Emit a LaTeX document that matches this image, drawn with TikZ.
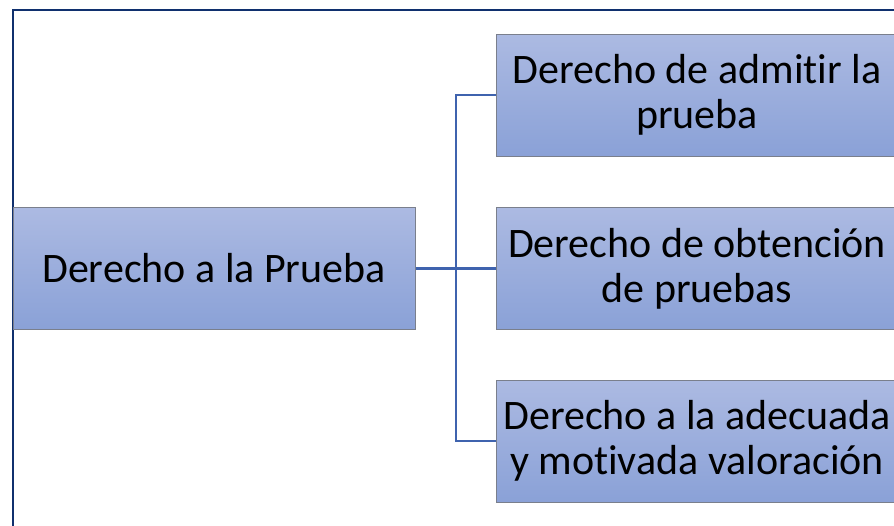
\documentclass[tikz,border=0pt]{standalone}
\usepackage{fontspec}
\setmainfont[Ligatures={NoCommon}]{Carlito}
\definecolor{frameblue}{HTML}{10306E}
\definecolor{linkblue}{HTML}{3F63AE}
\definecolor{boxtop}{HTML}{ACBAE2}
\definecolor{boxbot}{HTML}{8AA1D7}
\definecolor{boxedge}{HTML}{7A7F8C}
\begin{document}
\begin{tikzpicture}[x=1pt,y=-1pt,
  box/.style={draw=boxedge, line width=1pt, top color=boxtop, bottom color=boxbot,
    minimum height=122pt, inner sep=0pt, align=center, font=\fontsize{42}{45}\selectfont, text=black},
  link/.style={draw=linkblue, line width=2.6pt}]
\useasboundingbox (0,0) rectangle (894,525);
\clip (0,0) rectangle (894,525);
\draw[frameblue, line width=2.2pt] (13,10) rectangle (920,560);
\node[box, minimum width=402pt] (root) at (214,268.5) {Derecho a la Prueba};
\node[box, minimum width=402pt] (a) at (697,95) {Derecho de admitir la\\prueba};
\node[box, minimum width=402pt] (b) at (697,268.5) {Derecho de obtención\\de pruebas};
\node[box, minimum width=402pt] (c) at (697,441) {Derecho a la adecuada\\y motivada valoración};
\coordinate (j) at (456,268.5);
\draw[link] (root.east) -- (j);
\draw[link] (j) -- (b.west);
\draw[link] (a.west) -| (j) |- (c.west);
\end{tikzpicture}
\end{document}
